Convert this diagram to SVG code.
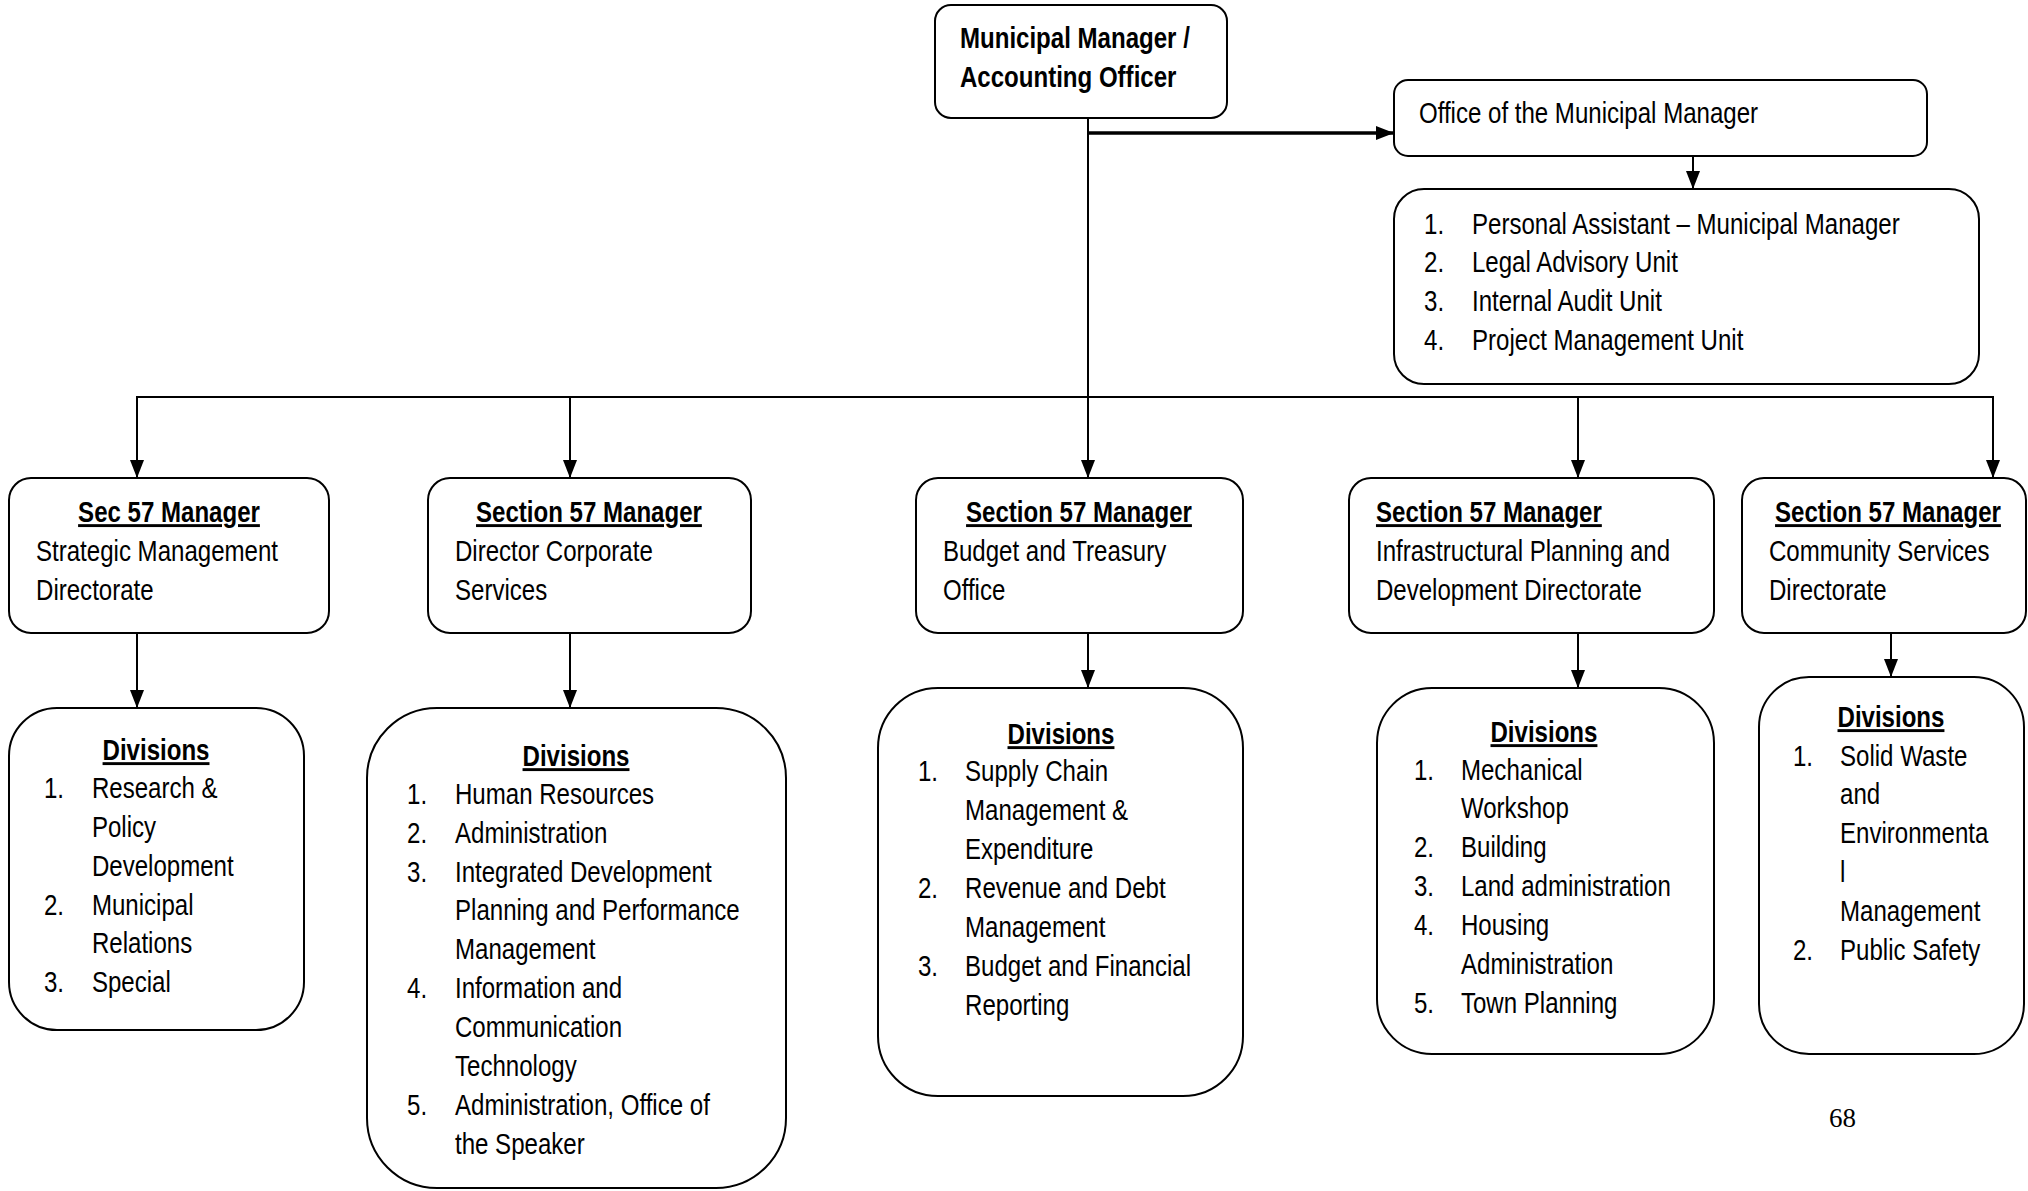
<svg xmlns="http://www.w3.org/2000/svg" width="2028" height="1191" viewBox="0 0 2028 1191">
<style>
text{font-family:"Liberation Sans","Arial",sans-serif;font-size:29px;fill:#000}
.b{font-weight:bold}
.u{text-decoration:underline}
.c{text-anchor:middle}
.box{fill:#fff;stroke:#000;stroke-width:2}
.ln{fill:none;stroke:#000;stroke-width:2}
.pg{font-family:"Liberation Serif",serif;font-size:27px}
</style>
<defs>
<marker id="ahd" viewBox="0 0 18 14" refX="18" refY="7" markerWidth="18" markerHeight="14" orient="auto" markerUnits="userSpaceOnUse">
<path d="M0,0 L18,7 L0,14 Z" fill="#000"/>
</marker>
</defs>
<g id="connectors">
<line class="ln" x1="1088" y1="118" x2="1088" y2="478" marker-end="url(#ahd)"/>
<line x1="1088" y1="133" x2="1394" y2="133" stroke="#000" stroke-width="3.5" marker-end="url(#ahd)"/>
<line class="ln" x1="1693" y1="156" x2="1693" y2="189" marker-end="url(#ahd)"/>
<polyline class="ln" points="137,478 137,397 1993,397 1993,478" marker-end="url(#ahd)"/>
<line class="ln" x1="137" y1="397" x2="137" y2="478" marker-end="url(#ahd)"/>
<line class="ln" x1="570" y1="397" x2="570" y2="478" marker-end="url(#ahd)"/>
<line class="ln" x1="1578" y1="397" x2="1578" y2="478" marker-end="url(#ahd)"/>
<line class="ln" x1="137" y1="633" x2="137" y2="708" marker-end="url(#ahd)"/>
<line class="ln" x1="570" y1="633" x2="570" y2="708" marker-end="url(#ahd)"/>
<line class="ln" x1="1088" y1="633" x2="1088" y2="688" marker-end="url(#ahd)"/>
<line class="ln" x1="1578" y1="633" x2="1578" y2="688" marker-end="url(#ahd)"/>
<line class="ln" x1="1891" y1="633" x2="1891" y2="677" marker-end="url(#ahd)"/>
</g>
<g id="mm">
<rect class="box" x="935" y="5" width="292" height="113" rx="16"/>
<g transform="scale(0.83,1)">
<text class="b" x="1156.6" y="48">Municipal Manager /</text>
<text class="b" x="1156.6" y="87">Accounting Officer</text>
</g>
</g>
<g id="office">
<rect class="box" x="1394" y="80" width="533" height="76" rx="14"/>
<g transform="scale(0.83,1)">
<text x="1709.6" y="123">Office of the Municipal Manager</text>
</g>
</g>
<g id="office-units">
<rect class="box" x="1394" y="189" width="585" height="195" rx="30"/>
<g transform="scale(0.83,1)">
<text x="1715.7" y="234">1.</text><text x="1773.5" y="234">Personal Assistant – Municipal Manager</text>
<text x="1715.7" y="272">2.</text><text x="1773.5" y="272">Legal Advisory Unit</text>
<text x="1715.7" y="311">3.</text><text x="1773.5" y="311">Internal Audit Unit</text>
<text x="1715.7" y="350">4.</text><text x="1773.5" y="350">Project Management Unit</text>
</g>
</g>
<g id="mgr1">
<rect class="box" x="9" y="478" width="320" height="155" rx="22"/>
<g transform="scale(0.83,1)">
<text class="b u c" x="203.6" y="522">Sec 57 Manager</text>
<text x="43.4" y="561">Strategic Management</text>
<text x="43.4" y="600">Directorate</text>
</g>
</g>
<g id="mgr2">
<rect class="box" x="428" y="478" width="323" height="155" rx="22"/>
<g transform="scale(0.83,1)">
<text class="b u c" x="709.6" y="522">Section 57 Manager</text>
<text x="548.2" y="561">Director Corporate</text>
<text x="548.2" y="600">Services</text>
</g>
</g>
<g id="mgr3">
<rect class="box" x="916" y="478" width="327" height="155" rx="22"/>
<g transform="scale(0.83,1)">
<text class="b u c" x="1300" y="522">Section 57 Manager</text>
<text x="1136.1" y="561">Budget and Treasury</text>
<text x="1136.1" y="600">Office</text>
</g>
</g>
<g id="mgr4">
<rect class="box" x="1349" y="478" width="365" height="155" rx="22"/>
<g transform="scale(0.83,1)">
<text class="b u" x="1657.8" y="522">Section 57 Manager</text>
<text x="1657.8" y="561">Infrastructural Planning and</text>
<text x="1657.8" y="600">Development Directorate</text>
</g>
</g>
<g id="mgr5">
<rect class="box" x="1742" y="478" width="284" height="155" rx="22"/>
<g transform="scale(0.83,1)">
<text class="b u c" x="2274.7" y="522">Section 57 Manager</text>
<text x="2131.3" y="561">Community Services</text>
<text x="2131.3" y="600">Directorate</text>
</g>
</g>
<g id="div1">
<rect class="box" x="9" y="708" width="295" height="322" rx="48"/>
<g transform="scale(0.83,1)">
<text class="b u c" x="188" y="760">Divisions</text>
<text x="53" y="798">1.</text><text x="110.8" y="798">Research &amp;</text>
<text x="110.8" y="837">Policy</text>
<text x="110.8" y="876">Development</text>
<text x="53" y="915">2.</text><text x="110.8" y="915">Municipal</text>
<text x="110.8" y="953">Relations</text>
<text x="53" y="992">3.</text><text x="110.8" y="992">Special</text>
</g>
</g>
<g id="div2">
<rect class="box" x="367" y="708" width="419" height="480" rx="70"/>
<g transform="scale(0.83,1)">
<text class="b u c" x="694" y="766">Divisions</text>
<text x="490.4" y="804">1.</text><text x="548.2" y="804">Human Resources</text>
<text x="490.4" y="843">2.</text><text x="548.2" y="843">Administration</text>
<text x="490.4" y="882">3.</text><text x="548.2" y="882">Integrated Development</text>
<text x="548.2" y="920">Planning and Performance</text>
<text x="548.2" y="959">Management</text>
<text x="490.4" y="998">4.</text><text x="548.2" y="998">Information and</text>
<text x="548.2" y="1037">Communication</text>
<text x="548.2" y="1076">Technology</text>
<text x="490.4" y="1115">5.</text><text x="548.2" y="1115">Administration, Office of</text>
<text x="548.2" y="1154">the Speaker</text>
</g>
</g>
<g id="div3">
<rect class="box" x="878" y="688" width="365" height="408" rx="60"/>
<g transform="scale(0.83,1)">
<text class="b u c" x="1278.3" y="744">Divisions</text>
<text x="1106" y="781">1.</text><text x="1162.7" y="781">Supply Chain</text>
<text x="1162.7" y="820">Management &amp;</text>
<text x="1162.7" y="859">Expenditure</text>
<text x="1106" y="898">2.</text><text x="1162.7" y="898">Revenue and Debt</text>
<text x="1162.7" y="937">Management</text>
<text x="1106" y="976">3.</text><text x="1162.7" y="976">Budget and Financial</text>
<text x="1162.7" y="1015">Reporting</text>
</g>
</g>
<g id="div4">
<rect class="box" x="1377" y="688" width="337" height="366" rx="55"/>
<g transform="scale(0.83,1)">
<text class="b u c" x="1860.2" y="742">Divisions</text>
<text x="1703.6" y="780">1.</text><text x="1760.2" y="780">Mechanical</text>
<text x="1760.2" y="818">Workshop</text>
<text x="1703.6" y="857">2.</text><text x="1760.2" y="857">Building</text>
<text x="1703.6" y="896">3.</text><text x="1760.2" y="896">Land administration</text>
<text x="1703.6" y="935">4.</text><text x="1760.2" y="935">Housing</text>
<text x="1760.2" y="974">Administration</text>
<text x="1703.6" y="1013">5.</text><text x="1760.2" y="1013">Town Planning</text>
</g>
</g>
<g id="div5">
<rect class="box" x="1759" y="677" width="265" height="377" rx="50"/>
<g transform="scale(0.83,1)">
<text class="b u c" x="2278.3" y="727">Divisions</text>
<text x="2160.2" y="766">1.</text><text x="2216.9" y="766">Solid Waste</text>
<text x="2216.9" y="804">and</text>
<text x="2216.9" y="843">Environmenta</text>
<text x="2216.9" y="882">l</text>
<text x="2216.9" y="921">Management</text>
<text x="2160.2" y="960">2.</text><text x="2216.9" y="960">Public Safety</text>
</g>
</g>
<text class="pg" x="1829" y="1127">68</text>
</svg>
